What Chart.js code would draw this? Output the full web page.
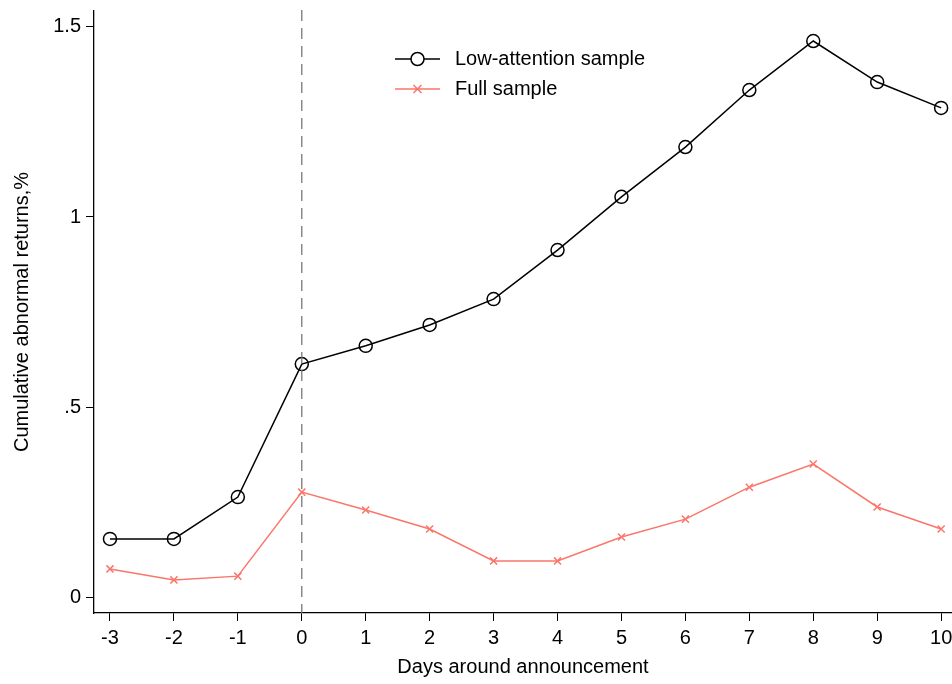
<!DOCTYPE html>
<html>
<head>
<meta charset="utf-8">
<script src="https://cdn.jsdelivr.net/npm/chart.js@4/dist/chart.umd.min.js"></script>
<style>
  html, body { margin: 0; padding: 0; background: #fff; }
  #wrap { width: 952px; height: 684px; }
</style>
</head>
<body>
<div id="wrap"><canvas id="chart" width="952" height="684"></canvas></div>
<script>
const days = [-3, -2, -1, 0, 1, 2, 3, 4, 5, 6, 7, 8, 9, 10];
const lowAttention = [0.153, 0.153, 0.263, 0.613, 0.661, 0.716, 0.784, 0.913, 1.053, 1.184, 1.334, 1.463, 1.355, 1.287];
const fullSample = [0.074, 0.045, 0.055, 0.276, 0.229, 0.179, 0.095, 0.095, 0.158, 0.205, 0.289, 0.350, 0.237, 0.179];
const yTicks = [0, 0.5, 1, 1.5];
const yTickLabels = ["0", ".5", "1", "1.5"];
const seriesNames = ["Low-attention sample", "Full sample"];

const FONT = "'Liberation Sans', Arial, sans-serif";
const SALMON = "rgb(250, 118, 106)";

// dashed vertical line at day 0 and a hand-placed legend like the original
const extras = {
    id: "extras",
    afterDatasetsDraw(chart) {
        const ctx = chart.ctx;
        const area = chart.chartArea;
        const x0 = chart.scales.x.getPixelForValue(0);
        ctx.save();
        ctx.strokeStyle = "#777";
        ctx.lineWidth = 1.3;
        ctx.setLineDash([11, 7]);
        ctx.beginPath();
        ctx.moveTo(x0, area.top - 1);
        ctx.lineTo(x0, area.bottom);
        ctx.stroke();
        ctx.setLineDash([]);

        // legend
        const lx = 395, lw = 45;
        const rows = [59, 89];
        ctx.font = "20px " + FONT;
        ctx.textBaseline = "middle";

        ctx.strokeStyle = "#000";
        ctx.lineWidth = 1.5;
        ctx.beginPath();
        ctx.moveTo(lx, rows[0]);
        ctx.lineTo(lx + lw, rows[0]);
        ctx.stroke();
        ctx.fillStyle = "#fff";
        ctx.beginPath();
        ctx.arc(lx + lw / 2, rows[0], 6.5, 0, Math.PI * 2);
        ctx.fill();
        ctx.stroke();

        ctx.strokeStyle = SALMON;
        ctx.beginPath();
        ctx.moveTo(lx, rows[1]);
        ctx.lineTo(lx + lw, rows[1]);
        const cx = lx + lw / 2, r = 4;
        ctx.moveTo(cx - r, rows[1] - r); ctx.lineTo(cx + r, rows[1] + r);
        ctx.moveTo(cx - r, rows[1] + r); ctx.lineTo(cx + r, rows[1] - r);
        ctx.stroke();

        ctx.fillStyle = "#000";
        ctx.fillText(seriesNames[0], 455, rows[0]);
        ctx.fillText(seriesNames[1], 455, rows[1]);
        ctx.restore();
    }
};

new Chart(document.getElementById("chart"), {
    type: "line",
    data: {
        datasets: [
            {
                label: seriesNames[0],
                data: days.map((d, i) => ({ x: d, y: lowAttention[i] })),
                borderColor: "#000",
                borderWidth: 1.5,
                pointStyle: "circle",
                pointRadius: 6.5,
                pointBorderWidth: 1.5,
                pointBorderColor: "#000",
                pointBackgroundColor: "rgba(255,255,255,0)",
                tension: 0
            },
            {
                label: seriesNames[1],
                data: days.map((d, i) => ({ x: d, y: fullSample[i] })),
                borderColor: SALMON,
                borderWidth: 1.5,
                pointStyle: "crossRot",
                pointRadius: 5,
                pointBorderWidth: 1.5,
                pointBorderColor: SALMON,
                tension: 0
            }
        ]
    },
    options: {
        responsive: false,
        animation: false,
        layout: { autoPadding: false, padding: { top: 11, right: 0, left: 0, bottom: 0 } },
        plugins: {
            legend: { display: false },
            tooltip: { enabled: false }
        },
        scales: {
            x: {
                type: "linear",
                min: -3.25,
                max: 10.17,
                afterBuildTicks: axis => { axis.ticks = days.map(v => ({ value: v })); },
                afterFit: axis => { axis.height = 71; axis.paddingRight = 0; axis.paddingLeft = 0; },
                ticks: {
                    color: "#000",
                    font: { family: FONT, size: 20 },
                    padding: 5,
                    maxRotation: 0,
                    callback: v => String(v)
                },
                grid: { drawOnChartArea: false, drawTicks: true, tickLength: 8, color: "#000", lineWidth: 1 },
                border: { display: true, color: "#000", width: 1.3 },
                title: {
                    display: true,
                    text: "Days around announcement",
                    color: "#000",
                    font: { family: FONT, size: 20 },
                    padding: { top: 2, bottom: 5 }
                }
            },
            y: {
                type: "linear",
                min: -0.042,
                max: 1.542,
                afterBuildTicks: axis => { axis.ticks = yTicks.map(v => ({ value: v })); },
                afterFit: axis => { axis.width = 94; axis.paddingTop = 0; axis.paddingBottom = 0; },
                ticks: {
                    color: "#000",
                    font: { family: FONT, size: 20 },
                    padding: 5,
                    callback: v => yTickLabels[yTicks.indexOf(v)]
                },
                grid: { drawOnChartArea: false, drawTicks: true, tickLength: 8, color: "#000", lineWidth: 1 },
                border: { display: true, color: "#000", width: 1.3 },
                title: {
                    display: true,
                    text: "Cumulative abnormal returns,%",
                    color: "#000",
                    font: { family: FONT, size: 20 },
                    padding: { top: 10, bottom: 4 }
                }
            }
        }
    },
    plugins: [extras]
});
</script>
</body>
</html>
